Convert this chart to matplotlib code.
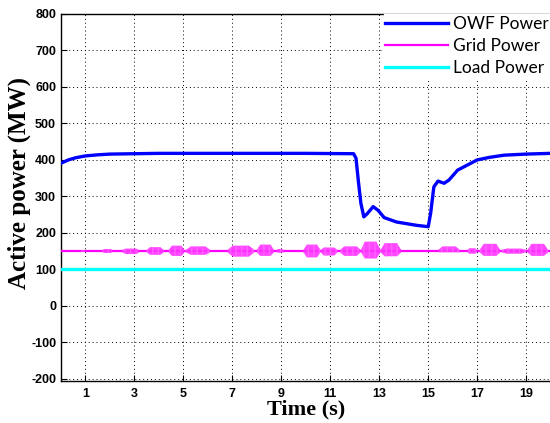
import numpy as np
import matplotlib
matplotlib.use("Agg")
import matplotlib.pyplot as plt

# -------------------------------------------
# data
# -------------------------------------------

# OWF power (MW)
owf_t = [0, 0.3, 0.6, 1.0, 1.5, 2.0, 3.0, 4.0, 6.0, 8.0, 10.0, 11.95, 12.05, 12.15,
         12.25, 12.37, 12.5, 12.75, 12.95, 13.2, 13.7, 14.5, 15.0, 15.1, 15.23,
         15.4, 15.65, 15.85, 16.2, 16.6, 17.0, 17.5, 18.1, 19.0, 20.0]
owf_p = [391, 400, 406, 411, 414, 416, 417, 418, 418, 418, 418, 417, 405, 340,
         281, 244, 252, 272, 262, 242, 230, 221, 217, 254, 326,
         342, 336, 345, 372, 386, 400, 407, 413, 416, 418]

# grid power: base level plus oscillation bursts (start, end, upper, lower)
grid_base = 150
burst_start = [0.8, 1.7, 2.5, 3.5, 4.4, 5.1, 6.8, 8.0, 8.8, 9.9, 10.6, 11.4,
               12.25, 13.05, 15.4, 16.6, 17.1, 18.0, 19.05]
burst_end = [1.0, 2.1, 3.2, 4.2, 5.05, 6.1, 7.9, 8.7, 9.1, 10.6, 11.3, 12.25,
             13.05, 13.9, 16.3, 17.0, 17.95, 19.0, 19.9]
burst_hi = [153, 156, 157, 161, 165, 163, 165, 168, 156, 168, 160, 163,
            176, 172, 163, 158, 170, 157, 170]
burst_lo = [147, 145, 142, 140, 137, 140, 135, 137, 146, 133, 138, 137,
            130, 136, 147, 143, 137, 143, 137]

# load power (MW)
load_t = [0, 20]
load_p = [101, 101]

xticks = [1, 3, 5, 7, 9, 11, 13, 15, 17, 19]
yticks = [-200, -100, 0, 100, 200, 300, 400, 500, 600, 700, 800]

# -------------------------------------------
# plot
# -------------------------------------------

plt.rcParams["hatch.linewidth"] = 1.0
plt.rcParams["hatch.color"] = "#ff00ff"

fig = plt.figure(figsize=(5.5, 4.23), dpi=100)
ax = fig.add_axes([61 / 550, 0.1, 0.8902, 0.867])

tick_font = dict(family="Liberation Sans", weight="bold", size=9)

ax.plot(owf_t, owf_p, color="#0000ff", lw=2.4, label="OWF Power", zorder=4)
ax.plot([0, 20], [grid_base, grid_base], color="#ff00ff", lw=1.6, label="Grid Power", zorder=3)
for s, e, hi, lo in zip(burst_start, burst_end, burst_hi, burst_lo):
    d = e - s
    xs = [s, s + 0.2 * d, e - 0.2 * d, e]
    ax.fill_between(xs, [grid_base + 3, hi, hi, grid_base + 3],
                    [grid_base - 3, lo, lo, grid_base - 3],
                    facecolor="#ff33ff", edgecolor="#ff66ff", alpha=0.9,
                    hatch="|||", lw=0, zorder=3)
ax.plot(load_t, load_p, color="#00ffff", lw=2.4, label="Load Power", zorder=3)

ax.set_xlim(0, 20)
ax.set_ylim(-205, 800)
ax.set_xticks(xticks)
ax.set_yticks(yticks)
ax.set_xticklabels([str(t) for t in xticks], fontdict=tick_font)
ax.set_yticklabels([str(t) for t in yticks], fontdict=tick_font)
ax.tick_params(direction="in", length=4, width=0.8, pad=5)
ax.tick_params(axis="y", pad=3.5)
ax.grid(True, color="black", linestyle=(0, (1, 3)), lw=0.7)
for sp in ax.spines.values():
    sp.set_linewidth(1.0)

ax.set_xlabel("Time (s)", family="Liberation Serif", weight="bold", size=16, labelpad=0)
ax.set_ylabel("Active power (MW)", family="Liberation Serif", weight="bold", size=18)
ax.yaxis.set_label_coords(-0.062, 0.54)

leg = ax.legend(loc="upper right", bbox_to_anchor=(1.0, 1.0), borderaxespad=0,
                prop=dict(family="Lato", size=12.5), handlelength=3.6, labelspacing=0.35,
                borderpad=0.1, handletextpad=0.3, fancybox=False, framealpha=1)
leg.get_frame().set_edgecolor("white")

fig.savefig("out.png", dpi=100)
